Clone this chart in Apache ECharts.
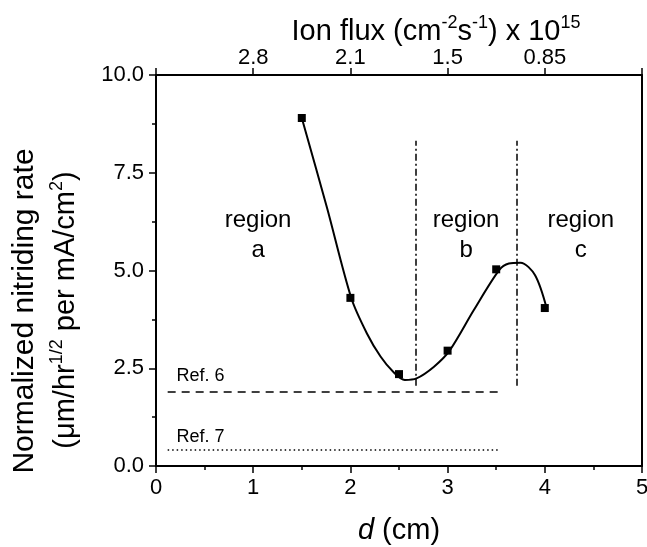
<!DOCTYPE html>
<html><head><meta charset="utf-8">
<script src="https://cdn.jsdelivr.net/npm/echarts@6/dist/echarts.min.js"></script>
<style>html,body{margin:0;padding:0;background:#fff}#c{width:647px;height:547px}</style>
</head><body><div id="c"></div>
<script>
// measured data points (d in cm, normalized nitriding rate)
const dValues = [1.5, 2.0, 2.5, 3.0, 3.5, 4.0];
const rateValues = [8.9, 4.3, 2.35, 2.95, 5.03, 4.04];
// hand-drawn fit curve
const fitD = [1.5, 1.76, 2.01, 2.17, 2.31, 2.44, 2.56, 2.68, 2.86, 3.02, 3.27, 3.53, 3.63, 3.75, 3.9, 4.02];
const fitRate = [8.9, 6.6, 4.29, 3.39, 2.80, 2.41, 2.20, 2.24, 2.54, 2.95, 3.99, 5.01, 5.18, 5.20, 4.88, 4.03];
// top axis (ion flux) tick labels at d = 0..5
const topTickLabels = ['', '2.8', '2.1', '1.5', '0.85', ''];
// region boundaries (d) and their vertical extent (rate)
const regionBounds = [2.67, 3.71];
const boundSpan = [2.05, 8.32];
// reference levels
const refNames = ['Ref. 6', 'Ref. 7'];
const refRates = [1.9, 0.41];
const refSpan = [0.12, 3.52];
const regionNames = ['region\na', 'region\nb', 'region\nc'];

const F = '"Liberation Sans", Arial, sans-serif';
const chart = echarts.init(document.getElementById('c'), null, {renderer: 'canvas'});

const axisLineStyle = {color: '#000', width: 2};
const tickLabel = {color: '#000', fontSize: 22, fontFamily: F};

const option = {
  backgroundColor: '#fff',
  animation: false,
  grid: {left: 156, right: 5, top: 75, bottom: 81, containLabel: false, outerBoundsMode: 'none'},
  xAxis: [
    {
      type: 'value', min: 0, max: 5, interval: 1, position: 'bottom',
      axisLine: {show: true, lineStyle: axisLineStyle},
      axisTick: {show: true, inside: false, length: 7, lineStyle: {color: '#000', width: 1.5}},
      minorTick: {show: true, splitNumber: 2, length: 4, lineStyle: {color: '#000', width: 1.5}},
      splitLine: {show: false},
      axisLabel: Object.assign({margin: 11}, tickLabel)
    },
    {
      type: 'value', min: 0, max: 5, interval: 1, position: 'top',
      axisLine: {show: true, onZero: false, lineStyle: axisLineStyle},
      axisTick: {show: true, inside: false, length: 7, lineStyle: {color: '#000', width: 1.5}},
      splitLine: {show: false},
      axisLabel: Object.assign({margin: 6, formatter: v => topTickLabels[Math.round(v)] || ''}, tickLabel)
    }
  ],
  yAxis: [
    {
      type: 'value', min: 0, max: 10, interval: 2.5, position: 'left',
      axisLine: {show: true, onZero: false, lineStyle: axisLineStyle},
      axisTick: {show: true, inside: false, length: 7, lineStyle: {color: '#000', width: 1.5}},
      minorTick: {show: true, splitNumber: 2, length: 4, lineStyle: {color: '#000', width: 1.5}},
      splitLine: {show: false},
      axisLabel: Object.assign({margin: 12, formatter: v => v.toFixed(1)}, tickLabel)
    },
    {
      type: 'value', min: 0, max: 10, position: 'right',
      axisLine: {show: true, onZero: false, lineStyle: axisLineStyle},
      axisTick: {show: false}, axisLabel: {show: false}, splitLine: {show: false}
    }
  ],
  series: [
    {
      type: 'line', name: 'fit', data: fitD.map((d, i) => [d, fitRate[i]]),
      smooth: 0.3, showSymbol: false, symbol: 'none',
      lineStyle: {color: '#000', width: 2},
      markLine: {
        silent: true, symbol: 'none',
        label: {show: false},
        lineStyle: {color: '#000', width: 1.5, type: [7, 3, 2, 3]},
        data: regionBounds.map(b => [{coord: [b, boundSpan[0]]}, {coord: [b, boundSpan[1]]}])
      }
    },
    {
      type: 'scatter', name: 'data', data: dValues.map((d, i) => [d, rateValues[i]]),
      symbol: 'rect', symbolSize: 8, itemStyle: {color: '#000', opacity: 1}
    },
    {
      type: 'line', name: 'ref6', data: [],
      markLine: {
        silent: true, symbol: ['arrow', 'none'], symbolSize: [7, 0],
        label: {show: false},
        lineStyle: {color: '#000', width: 1.6, type: [8, 6]},
        data: [[{coord: [refSpan[0], refRates[0]]}, {coord: [refSpan[1], refRates[0]]}]]
      }
    },
    {
      type: 'line', name: 'ref7', data: [],
      markLine: {
        silent: true, symbol: ['arrow', 'none'], symbolSize: [7, 0],
        label: {show: false},
        lineStyle: {color: '#000', width: 1.6, type: [1.5, 3]},
        data: [[{coord: [refSpan[0], refRates[1]]}, {coord: [refSpan[1], refRates[1]]}]]
      }
    },
    {
      type: 'scatter', name: 'regionLabels', symbolSize: 0, silent: true,
      itemStyle: {opacity: 1},
      data: [[1.05, 5.91, regionNames[0]], [3.19, 5.91, regionNames[1]], [4.37, 5.91, regionNames[2]]],
      label: {
        show: true, position: 'inside', formatter: p => p.data[2], opacity: 1,
        color: '#000', fontSize: 24, lineHeight: 30, fontFamily: F, align: 'center'
      }
    },
    {
      type: 'scatter', name: 'refLabels', symbolSize: 0, silent: true,
      itemStyle: {opacity: 1},
      data: [[0.21, 2.30, refNames[0]], [0.21, 0.74, refNames[1]]],
      label: {
        show: true, position: 'right', distance: 0, formatter: p => p.data[2], opacity: 1,
        color: '#000', fontSize: 18, fontFamily: F
      }
    }
  ],
  graphic: [
    {
      type: 'text', x: 436, y: 32,
      style: {
        text: '{m|Ion flux (cm}{s|-2}{m|s}{s|-1}{m|) x 10}{s|15}',
        align: 'center', verticalAlign: 'middle',
        rich: {
          m: {fontSize: 29, fontFamily: F, color: '#000', lineHeight: 35},
          s: {fontSize: 18, fontFamily: F, color: '#000', lineHeight: 18, verticalAlign: 'top'}
        }
      }
    },
    {
      type: 'text', x: 399, y: 531,
      style: {
        text: '{i|d}{m| (cm)}',
        align: 'center', verticalAlign: 'middle',
        rich: {
          i: {fontSize: 29, fontFamily: F, color: '#000', fontStyle: 'italic'},
          m: {fontSize: 29, fontFamily: F, color: '#000'}
        }
      }
    },
    {
      type: 'text', x: 25, y: 311, rotation: Math.PI / 2,
      style: {
        text: 'Normalized nitriding rate',
        fontSize: 30, fontFamily: F, fill: '#000',
        align: 'center', verticalAlign: 'middle'
      }
    },
    {
      type: 'text', x: 66, y: 310, rotation: Math.PI / 2,
      style: {
        text: '{m|(\u03bcm/hr}{s|1/2}{m| per mA/cm}{s|2}{m|)}',
        align: 'center', verticalAlign: 'middle',
        rich: {
          m: {fontSize: 29, fontFamily: F, color: '#000', lineHeight: 35},
          s: {fontSize: 18, fontFamily: F, color: '#000', lineHeight: 18, verticalAlign: 'top'}
        }
      }
    }
  ]
};
chart.setOption(option);
</script>
</body></html>
